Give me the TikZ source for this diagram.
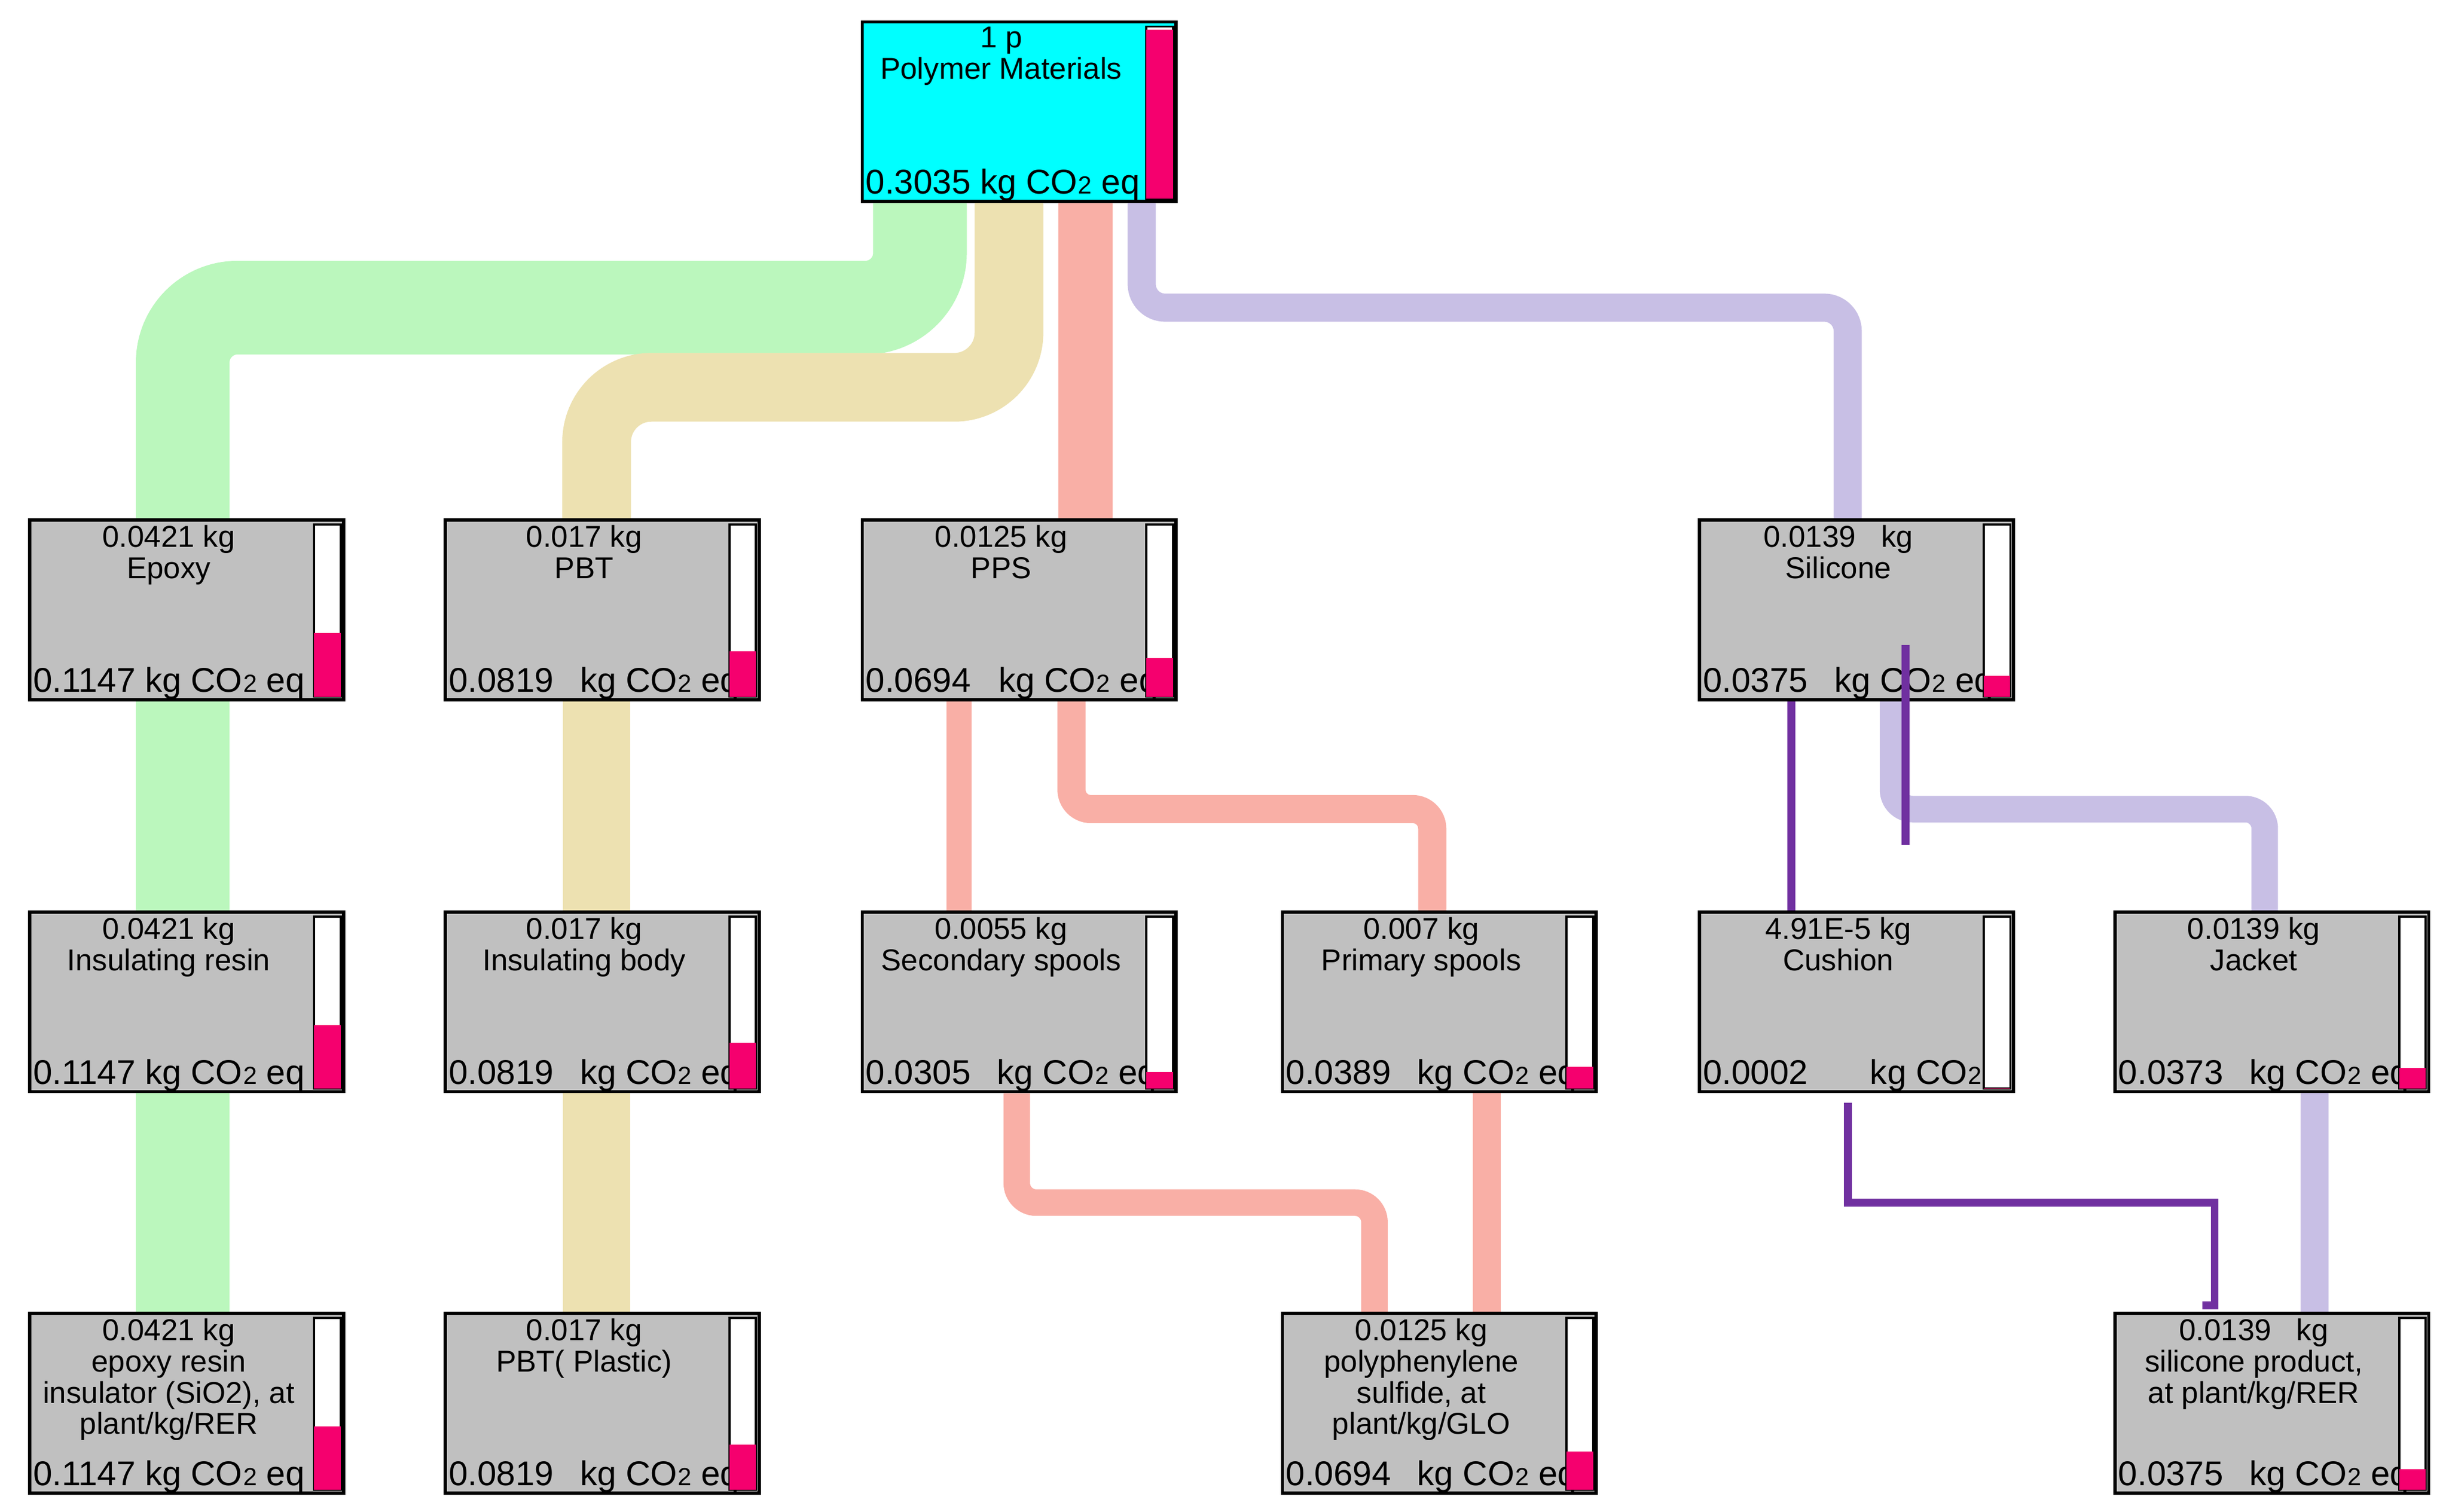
\documentclass[tikz,border=0pt]{standalone}
\usepackage{fontspec}
\setmainfont{Liberation Sans}
\usetikzlibrary{calc,backgrounds}
\definecolor{cgreen}{HTML}{BBF7BD}
\definecolor{ctan}{HTML}{EDE1B1}
\definecolor{csal}{HTML}{F9AFA6}
\definecolor{clav}{HTML}{C8BFE5}
\definecolor{cpur}{HTML}{7030A0}
\definecolor{cgray}{HTML}{C0C0C0}
\definecolor{ccyan}{HTML}{00FFFF}
\definecolor{cpink}{HTML}{F5006E}
\newcommand\COt{CO\kern0.3pt{\fontsize{9}{9}\selectfont 2}}
\tikzset{
  box/.style={draw=black,line width=1.2pt,minimum width=4.02cm,minimum height=2.3cm,inner sep=0pt},
  toptxt/.style={inner sep=0pt,align=center,font=\fontsize{11}{11.4}\selectfont},
  bot/.style={inner sep=0pt,font=\fontsize{12.5}{13}\selectfont},
  flow/.style={draw=#1,rounded corners=0.7cm},
}
\newcommand\pbox[9]{%
  \node[box,fill=#4,anchor=north west] (#1) at (#2,#3) {};
  \begin{scope}
    \clip (#1.north west) rectangle (#1.south east);
    \node[toptxt,anchor=north] at ($(#1.north west)+(90,4)$) {#6};
    \node[bot,anchor=base west] at ($(#1.south west)+(3,-6)$) {#7};
    \node[bot,anchor=base west] at ($(#1.south west)+(#8,-6)$) {#9};
    \filldraw[fill=white,draw=black,line width=0.8pt] ($(#1.north east)+(-20,4)$) rectangle ($(#1.south east)+(-3,-3)$);
    \fill[cpink] ($(#1.south east)+(-20,-3)$) rectangle ++(17,{-#5*108});
  \end{scope}}
\begin{document}
\begin{tikzpicture}[x=0.02cm,y=-0.02cm]
\useasboundingbox (0,0) rectangle (1568,968);
\pbox{top}{551}{13}{ccyan}{1}{1 p\\Polymer Materials}{0.3035 kg \COt\ eq}{0}{}
\pbox{epoxy}{18}{332}{cgray}{0.378}{0.0421 kg\\Epoxy}{0.1147 kg \COt\ eq}{0}{}
\pbox{pbt}{284}{332}{cgray}{0.27}{0.017 kg\\PBT}{0.0819}{87}{kg \COt\ eq}
\pbox{pps}{551}{332}{cgray}{0.229}{0.0125 kg\\PPS}{0.0694}{88}{kg \COt\ eq}
\pbox{sil}{1087}{332}{cgray}{0.124}{0.0139\ \ \ kg\\Silicone}{0.0375}{87}{kg \COt\ eq}
\pbox{insres}{18}{583}{cgray}{0.378}{0.0421 kg\\Insulating resin}{0.1147 kg \COt\ eq}{0}{}
\pbox{insbody}{284}{583}{cgray}{0.27}{0.017 kg\\Insulating body}{0.0819}{87}{kg \COt\ eq}
\pbox{sec}{551}{583}{cgray}{0.10}{0.0055 kg\\Secondary spools}{0.0305}{87}{kg \COt\ eq}
\pbox{prim}{820}{583}{cgray}{0.128}{0.007 kg\\Primary spools}{0.0389}{87}{kg \COt\ eq}
\pbox{cush}{1087}{583}{cgray}{0.001}{4.91E-5 kg\\Cushion}{0.0002}{110}{kg \COt}
\pbox{jacket}{1353}{583}{cgray}{0.123}{0.0139 kg\\Jacket}{0.0373}{87}{kg \COt\ eq}
\pbox{epres}{18}{840}{cgray}{0.378}{0.0421 kg\\epoxy resin\\insulator (SiO2), at\\plant/kg/RER}{0.1147 kg \COt\ eq}{0}{}
\pbox{pbtp}{284}{840}{cgray}{0.27}{0.017 kg\\PBT( Plastic)}{0.0819}{87}{kg \COt\ eq}
\pbox{poly}{820}{840}{cgray}{0.229}{0.0125 kg\\polyphenylene\\sulfide, at\\plant/kg/GLO}{0.0694}{87}{kg \COt\ eq}
\pbox{silprod}{1353}{840}{cgray}{0.124}{0.0139\ \ \ kg\\silicone product,\\at plant/kg/RER}{0.0375}{87}{kg \COt\ eq}
\begin{pgfonlayer}{background}
\draw[flow=cgreen,line width=1.2cm] ($(top.south west)+(38,0)$) |- ($(epoxy.north west)+(99,-135)$) -- ($(epoxy.north west)+(99,0)$);
\draw[flow=ctan,line width=0.88cm] ($(top.south west)+(95,0)$) |- ($(pbt.north west)+(98,-84)$) -- ($(pbt.north west)+(98,0)$);
\draw[flow=csal,line width=0.7cm] ($(top.south west)+(144,0)$) -- ($(pps.north west)+(144,0)$);
\draw[flow=clav,line width=0.36cm,rounded corners=0.3cm] ($(top.south west)+(180,0)$) |- ($(sil.north west)+(96,-135)$) -- ($(sil.north west)+(96,0)$);
\draw[flow=cgreen,line width=1.2cm] ($(insres.north west)+(99,0)$) -- ($(epoxy.south west)+(99,0)$);
\draw[flow=cgreen,line width=1.2cm] ($(epres.north west)+(99,0)$) -- ($(insres.south west)+(99,0)$);
\draw[flow=ctan,line width=0.86cm] ($(insbody.north west)+(98,0)$) -- ($(pbt.south west)+(98,0)$);
\draw[flow=ctan,line width=0.86cm] ($(pbtp.north west)+(98,0)$) -- ($(insbody.south west)+(98,0)$);
\draw[flow=csal,line width=0.32cm] ($(sec.north west)+(63,0)$) -- ($(pps.south west)+(63,0)$);
\draw[flow=csal,line width=0.36cm,rounded corners=0.25cm] ($(prim.north west)+(97,0)$) |- ($(pps.south west)+(135,69)$) -- ($(pps.south west)+(135,0)$);
\draw[flow=csal,line width=0.34cm,rounded corners=0.25cm] ($(poly.north west)+(60,0)$) |- ($(sec.south west)+(100,70)$) -- ($(sec.south west)+(100,0)$);
\draw[flow=csal,line width=0.36cm] ($(poly.north west)+(132,0)$) -- ($(prim.south west)+(132,0)$);
\draw[flow=clav,line width=0.34cm,rounded corners=0.25cm] ($(jacket.north west)+(97,0)$) |- ($(sil.south west)+(125,69)$) -- ($(sil.south west)+(125,0)$);
\draw[flow=clav,line width=0.36cm] ($(silprod.north west)+(129,0)$) -- ($(jacket.south west)+(129,0)$);
\end{pgfonlayer}
\draw[cpur,line width=0.1cm] ($(sil.south west)+(60,0)$) -- ($(cush.north west)+(60,0)$);
\coordinate (pa) at ($(sil.north west)+(133,81)$);
\coordinate (pb) at ($(sil.north west)+(133,209)$);
\draw[cpur,line width=0.1cm] (pa) -- (pb);
\draw[cpur,line width=0.1cm] ($(cush.south west)+(96,6)$) |- ($(silprod.north west)+(65,-70)$) -- ($(silprod.north west)+(65,-4)$) -- ($(silprod.north west)+(57,-4)$);
\end{tikzpicture}
\end{document}
